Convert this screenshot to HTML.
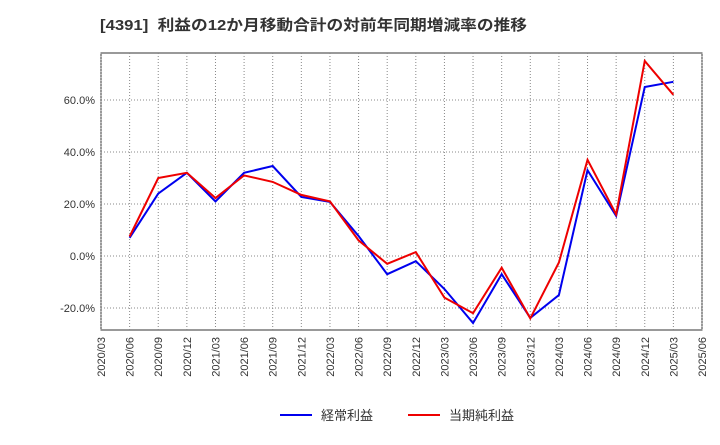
<!DOCTYPE html>
<html><head><meta charset="utf-8"><style>
body{margin:0;background:#fff;font-family:"Liberation Sans","Noto Sans CJK JP",sans-serif;}
</style></head><body>
<svg id="c" width="720" height="440" xmlns="http://www.w3.org/2000/svg">
<text x="100" y="30" font-size="15" font-weight="bold" fill="#333" textLength="427" lengthAdjust="spacingAndGlyphs" font-family="Liberation Sans,Noto Sans CJK JP,sans-serif">[4391]&#160; 利益の12か月移動合計の対前年同期増減率の推移</text>
</svg>
<script>
const categories=["2020/03","2020/06","2020/09","2020/12","2021/03","2021/06","2021/09","2021/12","2022/03","2022/06","2022/09","2022/12","2023/03","2023/06","2023/09","2023/12","2024/03","2024/06","2024/09","2024/12","2025/03","2025/06"];
const keijoValues=[null,7,24,32,21,32,34.6,22.7,20.8,7.7,-7,-2,-12.7,-25.8,-7,-23.8,-15,33,15.4,65,67,null];
const junValues=[null,7.5,30,32,22.3,31,28.5,23.5,21,6,-3,1.5,-16,-22,-4.5,-24,-2.5,37,16,75,62,null];
const yTicks=[-20,0,20,40,60];
const yTickLabels=["-20.0%","0.0%","20.0%","40.0%","60.0%"];

const svg=document.getElementById('c');const NS="http://www.w3.org/2000/svg";
const L=101,R=702,T=53,B=330;
const x=i=>L+i*(R-L)/(categories.length-1);
const y=v=>256-v*2.6;
function el(t,a){const e=document.createElementNS(NS,t);for(const k in a)e.setAttribute(k,a[k]);svg.appendChild(e);return e;}
const frame=el('rect',{x:L,y:T,width:R-L,height:B-T,fill:'none',stroke:'#333','stroke-width':1});


categories.forEach((c,i)=>{
 const g=el('line',{x1:x(i),x2:x(i),y1:T,y2:B,stroke:'#888','stroke-dasharray':'1,2'});
 
 
 const t=el('text',{x:0,y:0,'font-size':11,fill:'#333','text-anchor':'end',transform:`translate(${x(i)+4},${B+7}) rotate(-90)`});
 t.textContent=c;
 
 
});
yTicks.forEach((v,i)=>{
 const g=el('line',{x1:L,x2:R,y1:y(v),y2:y(v),stroke:'#888','stroke-dasharray':'1,2'});
 
 
 const t=el('text',{x:L-6,y:y(v)+4,'font-size':11,fill:'#333','text-anchor':'end'});
 t.textContent=yTickLabels[i];
 
 
});
function line(vals,color,name){
 const pts=vals.map((v,i)=>v==null?null:x(i)+','+y(v)).filter(p=>p).join(' ');
 const p=el('polyline',{points:pts,fill:'none',stroke:color,'stroke-width':2});
 
 
}
line(keijoValues,'#0000ee','keijo-rieki-line');
line(junValues,'#ee0000','jun-rieki-line');
const l1=el('line',{x1:280,x2:312,y1:415,y2:415,stroke:'#0000ee','stroke-width':2});


const t1=el('text',{x:321,y:420,'font-size':13,fill:'#333'});t1.textContent='経常利益';


const l2=el('line',{x1:408,x2:440,y1:415,y2:415,stroke:'#ee0000','stroke-width':2});


const t2=el('text',{x:449,y:420,'font-size':13,fill:'#333'});t2.textContent='当期純利益';


</script>
</body></html>
